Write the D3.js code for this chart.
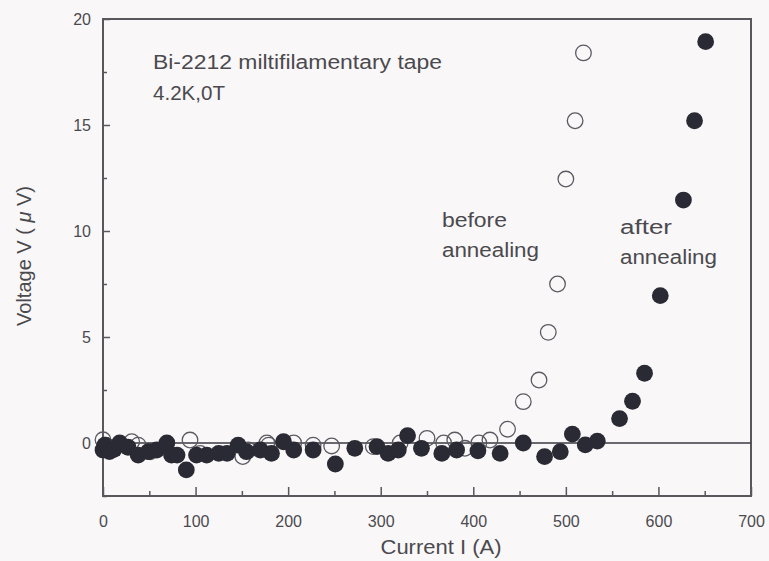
<!DOCTYPE html>
<html>
<head>
<meta charset="utf-8">
<script src="https://cdn.jsdelivr.net/npm/d3@7"></script>
<style>
  body { margin: 0; background: #faf7f9; }
  text { font-family: "Liberation Sans", Arial, sans-serif; fill: #4a4a4e; }
</style>
</head>
<body>
<div class="chart"></div>
<script>
// before annealing (open circles): current I (A), voltage V (uV)
var beforeI = [0, 3, 31, 38, 51, 94, 105, 151, 157, 177, 179, 206, 227, 247, 292, 321, 350, 368, 380, 391, 406, 418, 437, 454, 471, 481, 491, 500, 510, 519];
var beforeV = [0.15, -0.1, 0.06, -0.1, -0.41, 0.14, -0.49, -0.64, -0.33, 0, -0.1, 0, -0.1, -0.14, -0.17, 0, 0.22, 0, 0.14, -0.25, 0, 0.14, 0.65, 1.95, 2.97, 5.22, 7.5, 12.45, 15.2, 18.4];

// after annealing (filled circles)
var afterI = [0, 2, 7, 12, 18, 27, 38, 49, 58, 69, 74, 80, 90, 101, 112, 125, 134, 146, 155, 170, 182, 195, 206, 227, 251, 272, 296, 308, 319, 329, 344, 366, 382, 405, 429, 454, 477, 494, 507, 521, 534, 558, 572, 585, 602, 627, 639, 651];
var afterV = [-0.33, -0.1, -0.4, -0.3, 0, -0.2, -0.57, -0.41, -0.33, 0, -0.57, -0.57, -1.27, -0.57, -0.57, -0.49, -0.49, -0.1, -0.41, -0.33, -0.49, 0.06, -0.33, -0.33, -0.99, -0.25, -0.17, -0.49, -0.33, 0.35, -0.25, -0.49, -0.33, -0.37, -0.49, 0, -0.64, -0.41, 0.42, -0.09, 0.09, 1.15, 1.97, 3.29, 6.95, 11.46, 15.2, 18.93];

var xTicks = [0, 100, 200, 300, 400, 500, 600, 700];
var yTicks = [0, 5, 10, 15, 20];

var WIDTH = 769, HEIGHT = 561;
var margin = { top: 19, right: 18, bottom: 65, left: 103 },
    width = WIDTH - margin.left - margin.right,
    height = HEIGHT - margin.top - margin.bottom;

var axisColor = "#58585c";

var xScale = d3.scaleLinear().domain([0, 700]).range([0, width]);
var yScale = d3.scaleLinear().domain([-2.5, 20]).range([height, 0]);

var svg = d3.select('.chart').append("svg")
    .attr('width', WIDTH)
    .attr('height', HEIGHT);

svg.append("rect").attr("width", WIDTH).attr("height", HEIGHT).attr("fill", "#faf7f9");

var rootGroup = svg.append("g")
    .attr("transform", "translate(" + margin.left + "," + margin.top + ")");

// frame
rootGroup.append("rect")
    .attr("width", width)
    .attr("height", height)
    .attr("fill", "none")
    .attr("stroke", axisColor)
    .attr("stroke-width", 2);

// zero line
rootGroup.append("line")
    .attr("x1", xScale(0)).attr("x2", xScale(700))
    .attr("y1", yScale(0)).attr("y2", yScale(0))
    .attr("stroke", "#3a3a40")
    .attr("stroke-width", 1.3);

// axes, ticks pointing inward
var xMinor = d3.range(50, 700, 100);
var yMinor = d3.range(-2.5, 20, 5);

rootGroup.append("g")
    .attr("transform", "translate(0," + height + ")")
    .call(d3.axisBottom(xScale).tickValues(xTicks).tickSize(-9).tickPadding(20).tickFormat(d3.format("d")));
rootGroup.append("g")
    .attr("transform", "translate(0," + height + ")")
    .call(d3.axisBottom(xScale).tickValues(xMinor).tickSize(-5).tickFormat(""));

rootGroup.append("g")
    .call(d3.axisLeft(yScale).tickValues(yTicks).tickSize(-7).tickPadding(12).tickFormat(d3.format("d")));
rootGroup.append("g")
    .call(d3.axisLeft(yScale).tickValues(yMinor).tickSize(-4).tickFormat(""));

rootGroup.selectAll(".domain").remove();
rootGroup.selectAll(".tick line").attr("stroke", axisColor).attr("stroke-width", 1.5);
rootGroup.selectAll(".tick text")
    .style("font-size", "16px")
    .style("font-family", "'Liberation Sans', Arial, sans-serif")
    .attr("fill", "#4a4a4e");

// open circles (before annealing)
rootGroup.selectAll("circle.before")
    .data(d3.range(beforeI.length))
    .enter()
    .append("circle")
    .attr("class", "before")
    .attr("cx", d => xScale(beforeI[d]))
    .attr("cy", d => yScale(beforeV[d]))
    .attr("r", 7.8)
    .attr("fill", "none")
    .attr("stroke", "#5a5a60")
    .attr("stroke-width", 1.3);

// filled circles (after annealing)
rootGroup.selectAll("circle.after")
    .data(d3.range(afterI.length))
    .enter()
    .append("circle")
    .attr("class", "after")
    .attr("cx", d => xScale(afterI[d]))
    .attr("cy", d => yScale(afterV[d]))
    .attr("r", 8.4)
    .attr("fill", "#2a2a34");

// annotations
function label(x, y, str, len) {
    svg.append("text")
        .attr("x", x).attr("y", y)
        .attr("textLength", len)
        .attr("lengthAdjust", "spacingAndGlyphs")
        .style("font-size", "20px")
        .text(str);
}
label(153, 69, "Bi-2212 miltifilamentary tape", 289);
label(153, 100, "4.2K,0T", 72);
label(442, 227, "before", 65);
label(442, 257, "annealing", 97);
label(620, 234, "after", 52);
label(620, 264, "annealing", 97);

// axis titles
svg.append("text")
    .attr("x", 441).attr("y", 554)
    .style("text-anchor", "middle")
    .style("font-size", "20px")
    .attr("textLength", 121)
    .attr("lengthAdjust", "spacingAndGlyphs")
    .text("Current I (A)");

var yLabel = svg.append("text")
    .attr("transform", "translate(31,256) rotate(-90)")
    .style("text-anchor", "middle")
    .style("font-size", "20px");
yLabel.append("tspan").text("Voltage V ( ");
yLabel.append("tspan").style("font-style", "italic").text("μ");
yLabel.append("tspan").text(" V)");
</script>
</body>
</html>
